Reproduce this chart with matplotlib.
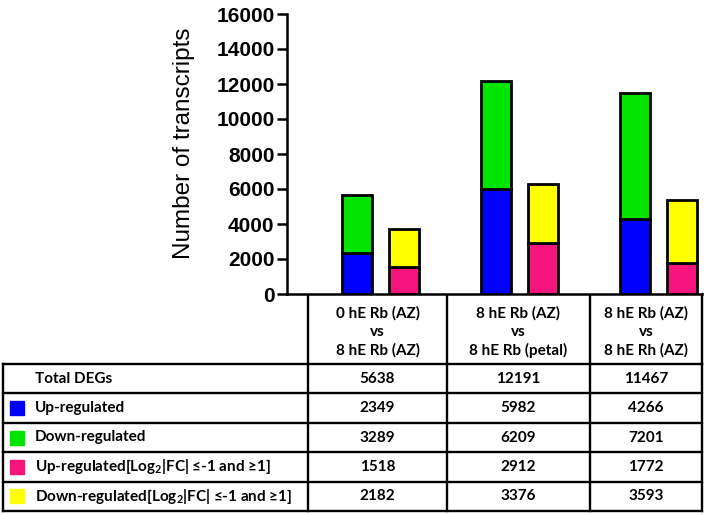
import matplotlib
matplotlib.use("Agg")
import matplotlib.pyplot as plt
import numpy as np

# data
comparisons = [
    ["0 hE Rb (AZ)", "vs", "8 hE Rb (AZ)"],
    ["8 hE Rb (AZ)", "vs", "8 hE Rb (petal)"],
    ["8 hE Rb (AZ)", "vs", "8 hE Rh (AZ)"],
]
total_degs = [5638, 12191, 11467]
up_reg = [2349, 5982, 4266]
down_reg = [3289, 6209, 7201]
up_fc = [1518, 2912, 1772]
down_fc = [2182, 3376, 3593]

row_labels = [
    "Total DEGs",
    "Up-regulated",
    "Down-regulated",
    "Up-regulated[Log$_2$|FC| \u2264-1 and \u22651]",
    "Down-regulated[Log$_2$|FC| \u2264-1 and \u22651]",
]
row_colors = [None, "#0000ff", "#00e400", "#f5157d", "#ffff00"]
row_values = [total_degs, up_reg, down_reg, up_fc, down_fc]

tfont = ["Lato", "DejaVu Sans"]
plt.rcParams["font.family"] = ["Liberation Sans", "DejaVu Sans"]
plt.rcParams["mathtext.fontset"] = "custom"
plt.rcParams["mathtext.rm"] = "Lato:bold"
plt.rcParams["mathtext.it"] = "Lato:bold"
plt.rcParams["mathtext.bf"] = "Lato:bold"

W, H = 712, 515
fig = plt.figure(figsize=(W / 100, H / 100), dpi=100)

# bar chart part
ax = fig.add_axes([287 / W, 1 - 294 / H, (702 - 287) / W, (294 - 14) / H])
x = np.arange(len(total_degs))
bw = 0.216
off = 0.169
elw = 2.0
ax.bar(x - off, up_reg, bw, color=row_colors[1], edgecolor="black", linewidth=elw, zorder=3)
ax.bar(x - off, down_reg, bw, bottom=up_reg, color=row_colors[2], edgecolor="black", linewidth=elw, zorder=3)
ax.bar(x + off, up_fc, bw, color=row_colors[3], edgecolor="black", linewidth=elw, zorder=3)
ax.bar(x + off, down_fc, bw, bottom=up_fc, color=row_colors[4], edgecolor="black", linewidth=elw, zorder=3)

ax.set_xlim(-0.67, 2.316)
ax.set_ylim(0, 16000)
ax.set_yticks(np.arange(0, 16001, 2000))
ax.set_xticks([])
for lab in ax.get_yticklabels():
    lab.set_fontweight("bold")
    lab.set_fontsize(15)
ax.tick_params(axis="y", width=1.8, length=7, pad=2)
ax.spines["top"].set_visible(False)
ax.spines["right"].set_visible(False)
ax.spines["left"].set_linewidth(1.8)
ax.spines["bottom"].set_linewidth(1.8)
ax.set_ylabel("Number of transcripts", fontsize=17.5)
ax.yaxis.set_label_coords(-0.222, 0.54)

# table part, drawn in pixel coords
tab = fig.add_axes([0, 0, 1, 1], zorder=-1)
tab.set_xlim(0, W)
tab.set_ylim(H, 0)
tab.axis("off")

col_edges = [3, 308, 447, 590, 702]
head_top, head_bot = 294, 364
row_h = 29.4
lw = 1.7
fs = 11

# header box
for xe in col_edges[1:]:
    tab.plot([xe, xe], [head_top, head_bot], color="black", lw=lw)
for j, comp in enumerate(comparisons):
    cx = (col_edges[j + 1] + col_edges[j + 2]) / 2
    for k, line in enumerate(comp):
        tab.text(cx, 313 + k * 18.5, line, ha="center", va="center",
                 fontsize=fs, fontweight="bold", family=tfont)

# body rows
n_rows = len(row_labels)
y_edges = [head_bot + i * row_h for i in range(n_rows + 1)]
for ye in y_edges:
    tab.plot([col_edges[0], col_edges[-1]], [ye, ye], color="black", lw=lw)
for xe in col_edges:
    tab.plot([xe, xe], [y_edges[0], y_edges[-1]], color="black", lw=lw)

for i in range(n_rows):
    cy = (y_edges[i] + y_edges[i + 1]) / 2
    if row_colors[i] is not None:
        tab.add_patch(plt.Rectangle((10, cy - 7), 14, 14, color=row_colors[i]))
    tab.text(35, cy, row_labels[i], ha="left", va="center", fontsize=fs,
             fontweight="bold", family=tfont)
    for j in range(len(comparisons)):
        cx = (col_edges[j + 1] + col_edges[j + 2]) / 2
        tab.text(cx, cy, str(row_values[i][j]), ha="center", va="center",
                 fontsize=fs, fontweight="bold", family=tfont)

fig.savefig("out.png", dpi=100)
